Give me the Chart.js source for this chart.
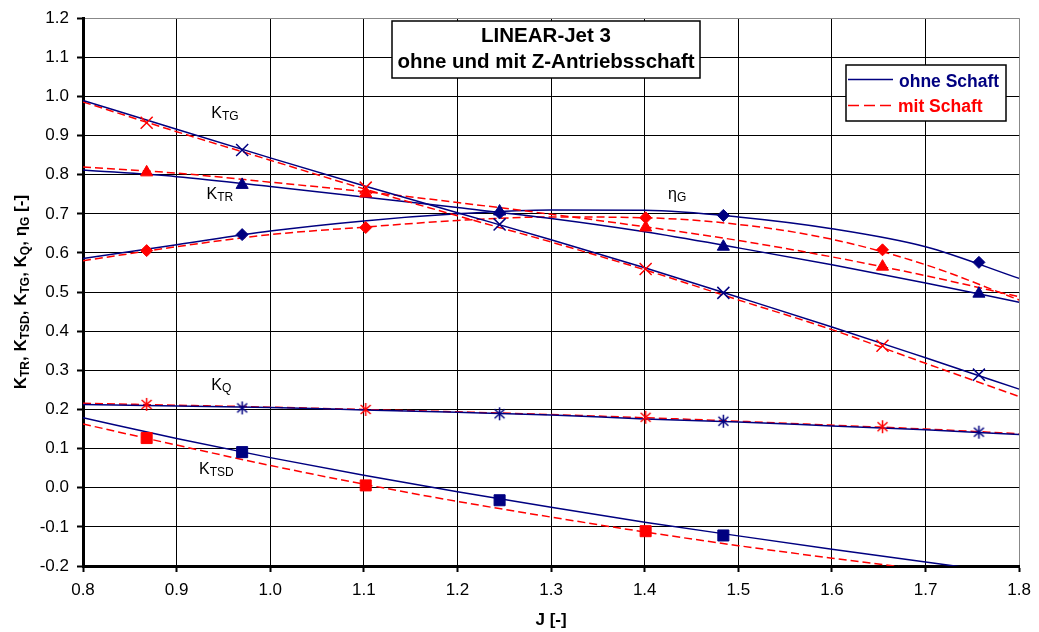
<!DOCTYPE html>
<html>
<head>
<meta charset="utf-8">
<script src="https://cdn.jsdelivr.net/npm/chart.js@4.4.0/dist/chart.umd.min.js"></script>
<style>
  html, body { margin: 0; padding: 0; background: #fff; }
  #wrap { width: 1039px; height: 632px; }
</style>
</head>
<body>
<div id="wrap"><canvas id="chart" width="1039" height="632"></canvas></div>
<script>
var jFit = [0.8, 0.9, 1.0, 1.1, 1.2, 1.3, 1.4, 1.5, 1.6, 1.7, 1.8];

var ktgOhneFit  = [0.990, 0.916, 0.843, 0.772, 0.703, 0.634, 0.562, 0.487, 0.411, 0.332, 0.252];
var ktgMitFit   = [0.986, 0.910, 0.837, 0.764, 0.695, 0.628, 0.557, 0.480, 0.404, 0.318, 0.233];
var ktrOhneFit  = [0.812, 0.795, 0.770, 0.743, 0.716, 0.688, 0.654, 0.613, 0.570, 0.523, 0.474];
var ktrMitFit   = [0.820, 0.804, 0.781, 0.757, 0.729, 0.699, 0.667, 0.632, 0.590, 0.542, 0.488];
var etaOhneFit  = [0.586, 0.621, 0.656, 0.682, 0.700, 0.710, 0.709, 0.692, 0.662, 0.616, 0.535];
var etaMitFit   = [0.580, 0.616, 0.647, 0.666, 0.683, 0.692, 0.690, 0.673, 0.635, 0.570, 0.480];
var kqOhneFit   = [0.213, 0.209, 0.205, 0.199, 0.193, 0.186, 0.176, 0.168, 0.158, 0.148, 0.136];
var kqMitFit    = [0.216, 0.211, 0.206, 0.200, 0.194, 0.187, 0.179, 0.170, 0.160, 0.150, 0.138];
var ktsdOhneFit = [0.179, 0.126, 0.077, 0.032, -0.010, -0.050, -0.088, -0.123, -0.157, -0.190, -0.222];
var ktsdMitFit  = [0.163, 0.109, 0.057, 0.009, -0.035, -0.075, -0.113, -0.148, -0.180, -0.210, -0.238];

// --- measured points ---
var jOhne = [0.970, 1.245, 1.484, 1.757];
var jMit  = [0.868, 1.102, 1.401, 1.654];

var ktgOhne  = [0.863, 0.673, 0.498, 0.289];
var ktgMit   = [0.933, 0.767, 0.559, 0.363];
var ktrOhne  = [0.774, 0.706, 0.616, 0.496];
var ktrMit   = [0.806, 0.752, 0.665, 0.565];
var etaOhne  = [0.647, 0.702, 0.696, 0.576];
var etaMit   = [0.606, 0.665, 0.690, 0.608];
var kqOhne   = [0.204, 0.189, 0.170, 0.142];
var kqMit    = [0.213, 0.200, 0.180, 0.156];
var ktsdOhne = [0.091, -0.032, -0.122, null];
var ktsdMit  = [0.127, 0.006, -0.111, null];

var NAVY = "#000080", RED = "#ff0000";
var FONT = "'Liberation Sans', Arial, sans-serif";

function pts(xs, ys) {
    var out = [];
    xs.forEach(function(x, i) { if (ys[i] !== null) out.push({ x: x, y: ys[i] }); });
    return out;
}

// asterisk marker (x with a vertical stroke)
function asterisk(color) {
    var c = document.createElement("canvas");
    c.width = 15; c.height = 15;
    var g = c.getContext("2d");
    g.strokeStyle = color; g.lineWidth = 1.5;
    g.beginPath();
    g.moveTo(2.5, 3); g.lineTo(12.5, 12);
    g.moveTo(12.5, 3); g.lineTo(2.5, 12);
    g.moveTo(7.5, 1); g.lineTo(7.5, 14);
    g.stroke();
    return c;
}

function fitLine(ys, color, dashed) {
    return {
        data: pts(jFit, ys), showLine: true, pointRadius: 0, borderColor: color, borderWidth: 1.5,
        borderDash: dashed ? [8, 4] : [], cubicInterpolationMode: "monotone", order: 2
    };
}

function markers(xs, ys, color, style, radius) {
    var hollow = style === "crossRot";
    return {
        data: pts(xs, ys), showLine: false, pointStyle: style, pointRadius: radius,
        pointBackgroundColor: color, pointBorderColor: color, pointBorderWidth: hollow ? 1.5 : 1, order: 1
    };
}

var datasets = [
    fitLine(ktgOhneFit, NAVY, false), fitLine(ktgMitFit, RED, true),
    fitLine(ktrOhneFit, NAVY, false), fitLine(ktrMitFit, RED, true),
    fitLine(etaOhneFit, NAVY, false), fitLine(etaMitFit, RED, true),
    fitLine(kqOhneFit, NAVY, false), fitLine(kqMitFit, RED, true),
    fitLine(ktsdOhneFit, NAVY, false), fitLine(ktsdMitFit, RED, true),
    markers(jOhne, ktgOhne, NAVY, "crossRot", 8.5), markers(jMit, ktgMit, RED, "crossRot", 8.5),
    markers(jOhne, ktrOhne, NAVY, "triangle", 7), markers(jMit, ktrMit, RED, "triangle", 7),
    markers(jOhne, etaOhne, NAVY, "rectRot", 6), markers(jMit, etaMit, RED, "rectRot", 6),
    markers(jOhne, kqOhne, NAVY, asterisk(NAVY), 7), markers(jMit, kqMit, RED, asterisk(RED), 7),
    markers(jOhne, ktsdOhne, NAVY, "rect", 7.8), markers(jMit, ktsdMit, RED, "rect", 7.8)
];

// text with subscripts: parts = [[text, isSub], ...]
function richWidth(ctx, parts, size, subSize, weight) {
    var w = 0;
    parts.forEach(function(p) {
        ctx.font = weight + " " + (p[1] ? subSize : size) + "px " + FONT;
        w += ctx.measureText(p[0]).width;
    });
    return w;
}
function drawRich(ctx, parts, x, y, size, subSize, weight, subDrop) {
    ctx.textAlign = "left"; ctx.textBaseline = "alphabetic";
    parts.forEach(function(p) {
        ctx.font = weight + " " + (p[1] ? subSize : size) + "px " + FONT;
        ctx.fillText(p[0], x, p[1] ? y + subDrop : y);
        x += ctx.measureText(p[0]).width;
    });
}

var curveLabels = [
    { j: 0.937, v: 0.945, parts: [["K", 0], ["TG", 1]] },
    { j: 0.932, v: 0.737, parts: [["K", 0], ["TR", 1]] },
    { j: 0.937, v: 0.250, parts: [["K", 0], ["Q", 1]] },
    { j: 0.924, v: 0.034, parts: [["K", 0], ["TSD", 1]] },
    { j: 1.425, v: 0.738, parts: [["\u03b7", 0], ["G", 1]] }
];

var overlay = {
    id: "overlay",
    afterDraw: function(chart) {
        var ctx = chart.ctx, xs = chart.scales.x, ys = chart.scales.y;
        ctx.save();
        ctx.fillStyle = "#000";

        curveLabels.forEach(function(l) {
            drawRich(ctx, l.parts, xs.getPixelForValue(l.j), ys.getPixelForValue(l.v), 16, 12, "normal", 2);
        });

        // title box
        ctx.fillStyle = "#fff"; ctx.fillRect(392, 21, 308, 57);
        ctx.strokeStyle = "#000"; ctx.lineWidth = 1.5; ctx.strokeRect(392, 21, 308, 57);
        ctx.fillStyle = "#000"; ctx.textAlign = "center"; ctx.textBaseline = "alphabetic";
        ctx.font = "bold 20.5px " + FONT;
        ctx.fillText("LINEAR-Jet 3", 546, 42);
        ctx.fillText("ohne und mit Z-Antriebsschaft", 546, 68);

        // legend box
        ctx.fillStyle = "#fff"; ctx.fillRect(846, 65, 160, 56);
        ctx.strokeStyle = "#000"; ctx.lineWidth = 1.5; ctx.strokeRect(846, 65, 160, 56);
        ctx.lineWidth = 1.5;
        ctx.strokeStyle = NAVY; ctx.setLineDash([]);
        ctx.beginPath(); ctx.moveTo(848, 79.5); ctx.lineTo(893, 79.5); ctx.stroke();
        ctx.strokeStyle = RED; ctx.setLineDash([11, 5]);
        ctx.beginPath(); ctx.moveTo(848, 105.5); ctx.lineTo(893, 105.5); ctx.stroke();
        ctx.setLineDash([]);
        ctx.textAlign = "left"; ctx.font = "bold 17.5px " + FONT;
        ctx.fillStyle = NAVY; ctx.fillText("ohne Schaft", 899, 87);
        ctx.fillStyle = RED; ctx.fillText("mit Schaft", 898, 112);

        // y axis title with subscripts
        var yt = [["K", 0], ["TR", 1], [", K", 0], ["TSD", 1], [", K", 0], ["TG", 1], [", K", 0], ["Q", 1],
                  [", ", 0], ["\u03b7", 0], ["G", 1], [" [-]", 0]];
        var w = richWidth(ctx, yt, 17, 12, "bold");
        ctx.translate(26, (chart.chartArea.top + chart.chartArea.bottom) / 2);
        ctx.rotate(-Math.PI / 2);
        ctx.fillStyle = "#000";
        drawRich(ctx, yt, -w / 2, 0, 17, 12, "bold", 3);
        ctx.restore();
    }
};

function edgeGrid(maxVal) {
    return function(c) {
        if (!c.tick) return "#000";
        return Math.abs(c.tick.value - maxVal) < 1e-6 ? "#888" : "#000";
    };
}

function tickText(v) {
    var r = Math.round(v * 10) / 10;
    if (Math.abs(r) < 1e-9) r = 0;
    return r.toFixed(1);
}

new Chart(document.getElementById("chart"), {
    type: "scatter",
    data: { datasets: datasets },
    options: {
        responsive: false,
        animation: false,
        events: [],
        layout: { padding: { left: 0, right: 14, top: 17, bottom: 0 } },
        plugins: { legend: { display: false }, tooltip: { enabled: false } },
        scales: {
            x: {
                type: "linear", min: 0.8, max: 1.8,
                ticks: { stepSize: 0.1, autoSkip: false, maxRotation: 0, padding: 8, color: "#000",
                         font: { family: FONT, size: 17 }, callback: tickText },
                grid: { color: edgeGrid(1.8), lineWidth: 1, tickLength: 6, tickColor: "#000", tickWidth: 2 },
                border: { color: "#000", width: 3 },
                title: { display: true, text: "J [-]", color: "#000", font: { family: FONT, size: 17, weight: "bold" },
                         padding: { top: 0, bottom: 1 } },
                afterFit: function(s) { s.height = 66; }
            },
            y: {
                type: "linear", min: -0.2, max: 1.2,
                ticks: { stepSize: 0.1, autoSkip: false, padding: 8, color: "#000",
                         font: { family: FONT, size: 17 }, callback: tickText },
                grid: { color: edgeGrid(1.2), lineWidth: 1, tickLength: 6, tickColor: "#000", tickWidth: 2 },
                border: { color: "#000", width: 3 },
                afterFit: function(s) { s.width = 83; }
            }
        }
    },
    plugins: [overlay]
});
</script>
</body>
</html>
